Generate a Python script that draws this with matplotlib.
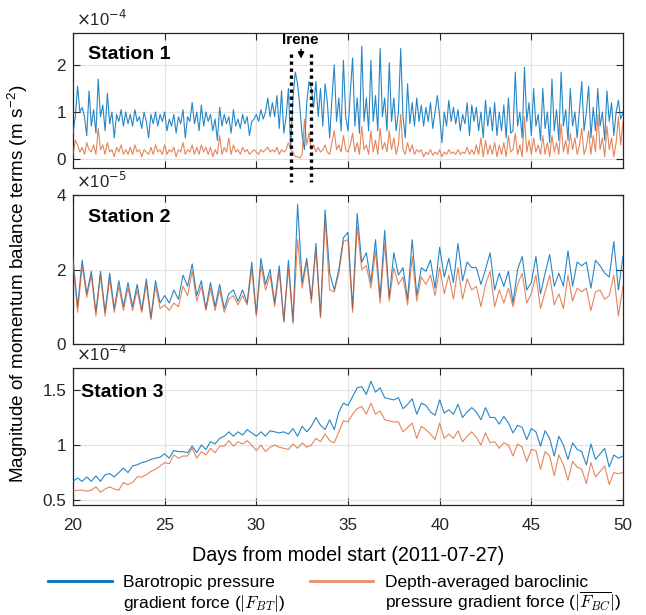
import numpy as np
import matplotlib
matplotlib.use("Agg")
import matplotlib.pyplot as plt
from matplotlib.ticker import FuncFormatter
from matplotlib.lines import Line2D
import matplotlib.transforms as mtransforms

plt.rcParams['font.family'] = ['Liberation Sans', 'DejaVu Sans']
plt.rcParams['mathtext.fontset'] = 'cm'

# ---------------- data ----------------
# Station 1, units of 1e-4 m s^-2, sampled every 3 h from day 20 to day 50
bt_st1 = [
    0.55, 0.9, 1.55, 1.0, 1.1, 0.9, 0.5, 1.45,
    0.7, 1.05, 0.55, 1.7, 0.9, 1.15, 0.6, 1.4,
    0.75, 1.0, 0.45, 0.95, 0.8, 1.05, 0.7, 1.0,
    0.75, 0.95, 0.7, 1.05, 0.8, 0.9, 0.65, 1.0,
    0.8, 0.45, 0.95, 0.75, 1.0, 0.7, 0.95, 0.8,
    1.0, 0.6, 0.85, 0.7, 0.95, 0.55, 0.9, 0.75,
    1.05, 0.45, 0.9, 0.8, 1.2, 0.75, 1.0, 0.6,
    1.15, 0.7, 1.0, 0.8, 0.95, 0.6, 0.85, 0.4,
    1.1, 0.7, 0.95, 0.75, 0.9, 0.55, 1.05, 0.7,
    0.85, 0.65, 0.95, 0.75, 0.9, 0.5, 0.8, 0.85,
    0.95, 0.8, 1.05, 0.85, 1.0, 1.3, 0.9, 1.2,
    0.9, 1.35, 0.65, 1.45, 0.55, 0.9, 1.5, 0.25,
    1.3, 1.85, 1.6, 1.1, 0.5, 0.2, 1.2, 1.65,
    1.5, 1.1, 1.65, 0.9, 1.5, 0.7, 1.6, 1.2,
    0.45, 1.3, 2.0, 0.8, 1.3, 0.6, 2.1, 0.9,
    0.6, 1.4, 2.15, 0.7, 1.3, 0.55, 2.4, 0.8,
    1.3, 0.6, 2.1, 0.8, 1.35, 0.6, 2.35, 0.9,
    1.3, 0.6, 2.05, 0.8, 1.3, 0.6, 1.0, 2.35,
    0.9, 0.45, 1.6, 0.75, 1.2, 0.7, 1.3, 0.8,
    1.15, 0.7, 1.1, 0.8, 1.2, 0.65, 1.0, 1.35,
    0.9, 0.35, 1.0, 0.7, 1.25, 0.8, 1.1, 0.75,
    1.05, 0.6, 0.95, 0.75, 1.2, 0.5, 1.15, 0.8,
    1.1, 0.6, 1.0, 0.45, 1.25, 0.7, 1.1, 0.6,
    1.2, 0.5, 1.0, 0.6, 1.15, 0.45, 1.3, 0.55,
    0.6, 1.85, 0.7, 1.0, 0.45, 1.95, 0.8, 1.2,
    0.5, 1.5, 0.7, 0.95, 0.4, 1.5, 0.65, 1.0,
    0.35, 1.7, 0.6, 1.05, 0.4, 1.85, 0.7, 1.05,
    0.4, 1.5, 0.7, 1.0, 0.45, 1.05, 1.65, 0.6,
    1.0, 1.55, 0.45, 1.1, 0.6, 1.5, 0.7, 1.0,
    0.4, 1.45, 0.8, 1.2, 0.5, 1.0, 1.25, 0.85,
    1.0,
]
bc_st1 = [
    0.1, 0.4, 0.3, 0.15, 0.25, 0.1, 0.35, 0.2,
    0.15, 0.3, 0.1, 0.65, 0.2, 0.3, 0.1, 0.35,
    0.15, 0.2, 0.05, 0.25, 0.15, 0.3, 0.1, 0.2,
    0.1, 0.25, 0.1, 0.3, 0.15, 0.2, 0.05, 0.2,
    0.15, 0.1, 0.25, 0.1, 0.3, 0.15, 0.2, 0.1,
    0.3, 0.1, 0.2, 0.15, 0.25, 0.05, 0.2, 0.15,
    0.35, 0.1, 0.2, 0.15, 0.3, 0.1, 0.25, 0.1,
    0.3, 0.15, 0.25, 0.1, 0.25, 0.05, 0.2, 0.1,
    0.5, 0.1, 0.25, 0.15, 0.45, 0.1, 0.3, 0.15,
    0.2, 0.1, 0.25, 0.15, 0.2, 0.1, 0.15, 0.2,
    0.15, 0.1, 0.2, 0.15, 0.2, 0.25, 0.15, 0.2,
    0.15, 0.25, 0.1, 0.2, 0.15, 0.2, 0.35, 0.2,
    0.15, 0.05, 0.05, 0.02, 0.1, 0.85, 0.3, 0.55,
    0.2, 0.3, 0.15, 0.25, 0.15, 0.2, 0.3, 0.15,
    0.1, 0.35, 0.6, 0.2, 0.3, 0.15, 0.5, 0.2,
    0.15, 0.3, 0.55, 0.15, 0.35, 0.1, 0.7, 0.2,
    0.3, 0.1, 0.6, 0.15, 0.4, 0.1, 0.65, 0.2,
    0.35, 0.15, 0.6, 0.2, 0.45, 0.1, 0.3, 0.95,
    0.2, 0.1, 0.35, 0.15, 0.3, 0.1, 0.2, 0.15,
    0.2, 0.05, 0.15, 0.1, 0.2, 0.08, 0.15, 0.1,
    0.2, 0.05, 0.15, 0.1, 0.2, 0.12, 0.15, 0.1,
    0.2, 0.1, 0.15, 0.12, 0.25, 0.1, 0.2, 0.1,
    0.3, 0.1, 0.45, 0.05, 0.4, 0.1, 0.3, 0.1,
    0.35, 0.05, 0.3, 0.1, 0.35, 0.05, 0.5, 0.15,
    0.2, 0.55, 0.1, 0.3, 0.05, 0.9, 0.15, 0.4,
    0.1, 0.45, 0.15, 0.3, 0.1, 0.5, 0.1, 0.35,
    0.05, 0.5, 0.15, 0.35, 0.1, 0.75, 0.15, 0.4,
    0.1, 0.55, 0.2, 0.45, 0.1, 0.3, 0.65, 0.1,
    0.25, 0.6, 0.1, 0.5, 0.15, 0.95, 0.2, 0.45,
    0.05, 0.7, 0.2, 0.45, 0.05, 0.35, 0.9, 0.3,
    0.8,
]

# Station 2, units of 1e-5 m s^-2, sampled every 6 h
bt_st2 = [
    2.3, 1.0, 2.25, 1.35,   1.95, 0.85, 1.95, 0.85,
    1.9, 0.95, 1.7, 1.0,    1.65, 1.0, 1.6, 0.9,
    1.75, 0.7, 1.7, 1.1,    1.3, 1.1, 1.45, 1.2,
    1.85, 1.55, 2.15, 1.3,  1.7, 0.95, 1.65, 1.0,
    1.6, 0.95, 1.35, 1.45,  1.15, 1.45, 1.1, 2.2,
    0.8, 2.3, 1.6, 2.0,     1.1, 2.1, 0.6, 2.25,
    0.6, 3.75, 1.65, 2.3,   1.2, 2.7, 0.75, 3.6,
    1.9, 1.45, 2.0, 2.85,   3.0, 0.95, 3.5, 2.2,
    2.45, 1.65, 2.8, 1.25,  3.05, 1.25, 2.45, 1.85,
    2.05, 1.2, 2.8, 1.3,    2.05, 1.95, 2.25, 1.5,
    2.6, 1.8, 2.3, 1.65,    2.7, 1.7, 2.2, 2.05,
    2.05, 1.6, 2.0, 2.45,   1.45, 1.9, 1.55, 1.95,
    1.1, 2.0, 2.35, 1.45,   1.65, 2.35, 1.35, 1.9,
    2.4, 1.55, 1.9, 1.55,   2.5, 1.55, 2.2, 2.1,
    2.2, 1.5, 2.25, 2.1,    1.9, 1.8, 2.75, 1.45,
    2.35,
]
bc_st2 = [
    2.15, 0.85, 2.1, 1.25,  1.85, 0.75, 1.85, 0.75,
    1.75, 0.85, 1.55, 0.9,  1.5, 0.9, 1.45, 0.85,
    1.6, 0.65, 1.55, 0.95,  1.05, 0.9, 1.1, 1.0,
    1.55, 1.3, 1.95, 1.15,  1.55, 0.9, 1.5, 0.9,
    1.45, 0.85, 1.2, 1.3,   1.05, 1.3, 1.05, 2.0,
    0.75, 2.1, 1.45, 1.85,  1.0, 1.95, 0.6, 2.05,
    0.55, 2.8, 1.5, 2.2,    1.1, 2.55, 0.7, 3.35,
    1.45, 1.4, 1.9, 2.75,   2.8, 0.85, 3.15, 2.0,
    2.1, 1.5, 2.5, 1.1,     2.7, 1.15, 2.05, 1.6,
    1.8, 1.05, 2.35, 1.15,  1.8, 1.6, 1.85, 1.3,
    2.05, 1.35, 1.85, 1.2,  2.05, 1.2, 1.75, 1.45,
    1.55, 1.0, 1.6, 1.95,   1.0, 1.45, 1.1, 1.5,
    1.0, 1.6, 1.9, 1.1,     1.35, 1.85, 0.95, 1.4,
    1.85, 1.05, 1.35, 0.95, 1.85, 1.15, 1.5, 1.4,
    1.5, 0.9, 1.4, 1.45,    1.2, 1.3, 1.85, 0.75,
    1.55,
]

# Station 3, units of 1e-4 m s^-2, sampled every 6 h
bt_st3 = [
    0.67, 0.7, 0.67, 0.71,   0.67, 0.72, 0.67, 0.73,
    0.74, 0.71, 0.75, 0.79,  0.75, 0.81, 0.82, 0.84,
    0.85, 0.87, 0.88, 0.89,  0.92, 0.88, 0.95, 0.94,
    0.94, 0.93, 0.99, 0.93,  1.0, 0.96, 1.03, 1.01,
    1.06, 1.08, 1.12, 1.08,  1.12, 1.09, 1.14, 1.11,
    1.08, 1.12, 1.08, 1.13,  1.12, 1.11, 1.12, 1.1,
    1.15, 1.08, 1.17, 1.12,  1.17, 1.25, 1.18, 1.14,
    1.23, 1.14, 1.3, 1.38,   1.36, 1.44, 1.52, 1.53,
    1.46, 1.58, 1.48, 1.52,  1.43, 1.42, 1.41, 1.43,
    1.33, 1.37, 1.42, 1.28,  1.38, 1.36, 1.3, 1.27,
    1.41, 1.29, 1.32, 1.28,  1.37, 1.25, 1.3, 1.34,
    1.3, 1.23, 1.34, 1.25,   1.25, 1.19, 1.26, 1.2,
    1.11, 1.18, 1.16, 1.05,  1.15, 1.12, 0.99, 1.13,
    1.06, 0.9, 1.08, 1.0,    0.87, 1.02, 0.96, 0.94,
    0.82, 1.01, 0.87, 0.92,  0.97, 0.8, 0.91, 0.88,
    0.9,
]
bc_st3 = [
    0.58, 0.59, 0.59, 0.58,  0.59, 0.62, 0.57, 0.6,
    0.62, 0.6, 0.59, 0.66,   0.64, 0.66, 0.71, 0.71,
    0.73, 0.76, 0.78, 0.81,  0.84, 0.83, 0.91, 0.88,
    0.9, 0.9, 0.97, 0.88,    0.94, 0.91, 0.97, 0.93,
    0.99, 0.99, 1.04, 0.99,  1.03, 1.01, 1.04, 1.0,
    0.95, 1.0, 0.94, 0.98,   1.0, 0.98, 0.97, 0.96,
    1.01, 0.97, 1.02, 0.98,  1.0, 1.06, 1.03, 1.1,
    1.04, 1.02, 1.12, 1.22,  1.21, 1.28, 1.33, 1.35,
    1.28, 1.38, 1.28, 1.31,  1.23, 1.22, 1.21, 1.21,
    1.12, 1.16, 1.2, 1.06,   1.17, 1.14, 1.1, 1.05,
    1.2, 1.06, 1.1, 1.06,    1.13, 1.03, 1.08, 1.12,
    1.07, 1.0, 1.11, 1.02,   1.03, 0.97, 1.02, 1.0,
    0.9, 1.01, 0.98, 0.85,   0.96, 0.95, 0.78, 0.94,
    0.9, 0.72, 0.91, 0.82,   0.68, 0.85, 0.8, 0.78,
    0.65, 0.84, 0.71, 0.76,  0.81, 0.64, 0.75, 0.74,
    0.75,
]

station_names = ["Station 1", "Station 2", "Station 3"]
exponents = [-4, -5, -4]
y_ticks = [[0, 1, 2], [0, 2, 4], [0.5, 1, 1.5]]
y_limits = [(-0.19, 2.68), (0, 4), (0.455, 1.70)]
x_ticks = [20, 25, 30, 35, 40, 45, 50]
irene_window = (31.9, 33.0)
legend_lines = [
    ("Barotropic pressure", r"gradient force ($|F_{BT}|$)"),
    ("Depth-averaged baroclinic", r"pressure gradient force ($|\overline{F_{BC}}|$)"),
]

# ---------------- figure ----------------
BLUE = '#0072BD'
ORANGE = '#D95319'
W, H = 646, 615
fig = plt.figure(figsize=(W / 100, H / 100), dpi=100)


def fx(px):
    return px / W


def fy(py):
    return 1 - py / H


rects = [(33, 168), (195, 344), (368, 505)]
axes = []
for top, bot in rects:
    ax = fig.add_axes([fx(73), fy(bot), 550 / W, (bot - top) / H])
    axes.append(ax)

series = [(bt_st1, bc_st1), (bt_st2, bc_st2), (bt_st3, bc_st3)]
label_pos = [(0.027, 0.844), (0.027, 0.852), (0.0145, 0.818)]

for i, ax in enumerate(axes):
    bt, bc = series[i]
    t_bt = np.linspace(20, 50, len(bt))
    t_bc = np.linspace(20, 50, len(bc))
    ax.plot(t_bt, bt, color=BLUE, lw=0.8, alpha=0.85, zorder=3)
    ax.plot(t_bc, bc, color=ORANGE, lw=0.8, alpha=0.7, zorder=3)
    ax.set_xlim(20, 50)
    ax.set_ylim(*y_limits[i])
    ax.set_xticks(x_ticks)
    ax.set_yticks(y_ticks[i])
    ax.yaxis.set_major_formatter(FuncFormatter(lambda v, p: f"{v:g}"))
    ax.tick_params(direction='in', top=True, right=True, length=5, width=0.8,
                   labelsize=12.3, colors='#262626')
    ax.tick_params(axis='y', pad=5)
    ax.tick_params(axis='x', pad=9)
    if i < 2:
        ax.tick_params(labelbottom=False)
    ax.grid(True, color='#e3e3e3', lw=0.8)
    ax.set_axisbelow(True)
    for s in ax.spines.values():
        s.set_color('#262626')
        s.set_linewidth(0.9)
    ax.text(label_pos[i][0], label_pos[i][1], station_names[i], transform=ax.transAxes,
            fontsize=14, fontweight='bold', ha='left', va='center', zorder=5)
    ax.text(0.005, 1.03, r'$\times\mathregular{10}^{%d}$' % exponents[i],
            transform=ax.transAxes, fontsize=12, ha='left', va='bottom',
            color='#262626', math_fontfamily='dejavusans')

axes[2].set_xlabel('Days from model start (2011-07-27)', fontsize=14.2, labelpad=10)

# Hurricane Irene window on Station 1
ax1 = axes[0]
trans = mtransforms.blended_transform_factory(ax1.transData, ax1.transAxes)
for xd in irene_window:
    ax1.plot([xd, xd], [0.844, -0.104], transform=trans, clip_on=False,
             color='black', lw=2.4, ls=(0, (1, 1.1)), zorder=6)
ax1.text(32.38, 0.945, 'Irene', transform=trans, fontsize=11, fontweight='bold',
         ha='center', va='center', zorder=6)
ax1.annotate('', xy=(32.44, 0.79), xytext=(32.44, 0.90), xycoords=trans, textcoords=trans,
             arrowprops=dict(arrowstyle='-|>', color='black', lw=1.1, mutation_scale=9),
             zorder=6)

fig.text(fx(18), fy(284), r'Magnitude of momentum balance terms (m s$^{\mathregular{-2}}$)',
         rotation=90, ha='center', va='center', fontsize=13.6)

# legend below the panels: line sits level with the first text row
legend_specs = [(48, 112, 123, BLUE, 1.0), (310, 373, 385, ORANGE, 0.65)]
for (x0, x1, xt, col, alpha), (row1, row2) in zip(legend_specs, legend_lines):
    fig.add_artist(Line2D([fx(x0), fx(x1)], [fy(581), fy(581)], color=col, lw=2.0,
                          alpha=alpha, transform=fig.transFigure))
    fig.text(fx(xt), fy(586.5), row1, fontsize=12.5, ha='left', va='baseline')
    fig.text(fx(xt), fy(608.5), row2, fontsize=12.5, ha='left', va='baseline')

fig.savefig('out.png', dpi=100)
